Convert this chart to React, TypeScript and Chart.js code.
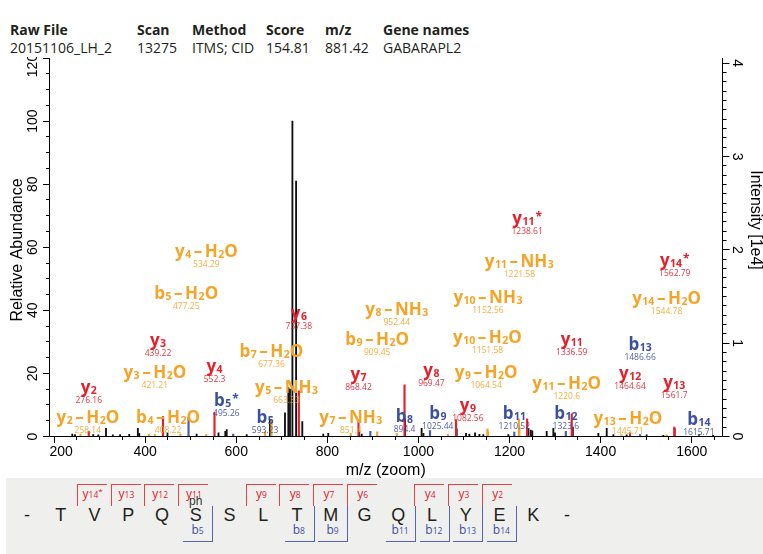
import React, { useEffect, useRef } from "react";
import { Chart, registerables } from "chart.js";

Chart.register(...registerables);

// ---------------- data ----------------
const headerLabels = ["Raw File", "Scan", "Method", "Score", "m/z", "Gene names"];
const headerValues = ["20151106_LH_2", "13275", "ITMS; CID", "154.81", "881.42", "GABARAPL2"];

// annotated fragment ions
const ionNames = [
  "y2-H2O", "y2", "b4-H2O", "y3-H2O", "y3", "b5-H2O", "b5*", "y4-H2O", "y4", "b5",
  "y5-NH3", "b7-H2O", "y6", "y7-NH3", "y7", "b8", "b9-H2O", "y8-NH3", "y8", "b9",
  "y9-H2O", "y9", "y10-H2O", "y10-NH3", "b11", "y11-H2O", "y11-NH3", "y11*", "b12", "y11",
  "y13-H2O", "y12", "b13", "y14-H2O", "y13", "y14*", "b14",
];
const ionMz = [
  "258.14", "276.16", "408.22", "421.21", "439.22", "477.25", "495.26", "534.29", "552.3", "593.23",
  "663.33", "677.36", "737.38", "851.4", "868.42", "894.4", "909.45", "952.44", "969.47", "1025.44",
  "1064.54", "1082.56", "1151.58", "1152.56", "1210.52", "1220.6", "1221.58", "1238.61", "1323.6", "1336.59",
  "1445.71", "1464.64", "1486.66", "1544.78", "1561.7", "1562.79", "1615.71",
];
const ionIntensity = [
  0.8, 1.6, 0.8, 0.7, 6.3, 0.8, 6.1, 0.7, 7.7, 0.8,
  1.5, 5.0, 14.5, 0.9, 5.1, 1.6, 1.5, 1.0, 16.4, 1.9,
  0.8, 5.4, 2.4, 1.5, 1.4, 5.6, 3.0, 5.6, 1.6, 7.2,
  0.6, 1.2, 0.6, 0.5, 3.0, 2.5, 0.7,
];
// label anchor height (relative abundance) and horizontal displacement (m/z units)
const labelLevel = [
  6.2, 15.8, 6.2, 20.5, 30.7, 45.5, 11.6, 58.9, 22.4, 6.2,
  15.8, 27.2, 39.2, 6.2, 19.8, 6.5, 30.8, 40.3, 21.1, 7.4,
  20.5, 10.0, 31.6, 44.3, 7.6, 17.1, 55.6, 69.3, 7.6, 30.9,
  5.8, 20.2, 29.3, 43.9, 17.4, 56.0, 5.5,
];
const labelShiftMz = [
  16, 0, 42, 0, -11, 13, 83, 0, 0, 70,
  47, 0, 0, 0, 0, 75, 0, 0, 59, 17,
  84, 26, 0, 0, 0, 105, 0, 0, 0, 0,
  14, 0, 0, 0, 0, 0, 0,
];

// unannotated peaks
const otherPeakMz = [
  240, 246, 286, 297, 314, 329, 345, 365, 384, 387,
  449, 513, 561, 576, 579, 623, 674, 707, 714.4, 718,
  723.3, 731.4, 745, 791, 802, 870, 875.5, 970.6, 1007, 1011,
  1084, 1104.5, 1111.8, 1124.3, 1133.8, 1142.5, 1197.4, 1241.5, 1246.6, 1250,
  1281.6, 1296.2, 1299.9, 1339, 1395, 1413.4, 1428, 1457, 1501, 1537.6, 1647,
];
const otherPeakIntensity = [
  0.8, 0.6, 0.6, 0.5, 2.6, 0.5, 0.6, 0.7, 2.6, 1.0,
  1.2, 0.8, 1.2, 1.6, 2.2, 0.6, 5.5, 7.5, 15.5, 15.0,
  100, 81, 4.7, 0.8, 1.0, 1.5, 0.8, 5.6, 2.6, 1.0,
  2.4, 1.0, 0.8, 1.2, 0.7, 0.6, 0.6, 2.5, 2.0, 1.8,
  1.6, 2.6, 1.2, 3.0, 1.0, 2.6, 0.6, 0.5, 0.5, 0.4, 0.4,
];

const xMajorTicks = [200, 400, 600, 800, 1000, 1200, 1400, 1600];
const leftMajorTicks = [0, 20, 40, 60, 80, 100, 120];
const rightMajorTicks = [0, 1, 2, 3, 4];

const sequence = ["-", "T", "V", "P", "Q", "S", "S", "L", "T", "M", "G", "Q", "L", "Y", "E", "K", "-"];
const yBracketLabels = ["y14*", "y13", "y12", "y11", "y9", "y8", "y7", "y6", "y4", "y3", "y2"];
const yBracketAfter = [1, 2, 3, 4, 6, 7, 8, 9, 11, 12, 13];
const bBracketLabels = ["b5", "b8", "b9", "b11", "b12", "b13", "b14"];
const bBracketAfter = [5, 8, 9, 11, 12, 13, 14];
const modifiedResidue = 5;
const modificationText = "ph";

// ---------------- styles ----------------
const RED = "#e5202b";
const ORANGE = "#f6a427";
const BLUE = "#3d4f9f";
const PEAK_BLUE = "#4a5cab";
const LINE_RED = "#ee3f46";
const LINE_BLUE = "#5565b3";
const AX_FONT = '"Liberation Sans", Arial, sans-serif';
const LBL_FONT = '"Open Sans", sans-serif';

const CANVAS_TOP = 57;
const CANVAS_W = 763;
const CANVAS_H = 421;

function ionKind(name: string) {
  if (name.indexOf("-") >= 0) return "loss";
  return name[0] === "y" ? "y" : "b";
}
function ionColor(name: string) {
  const k = ionKind(name);
  return k === "loss" ? ORANGE : k === "y" ? RED : BLUE;
}

function drawIonName(ctx: CanvasRenderingContext2D, name: string, cx: number, baseline: number, color: string) {
  const BIG = 17;
  const SMALL = 10.5;
  const toks: any[] = [];
  let i = 0;
  while (i < name.length) {
    const ch = name[i];
    if (/[0-9]/.test(ch)) {
      let j = i;
      while (j < name.length && /[0-9]/.test(name[j])) j++;
      toks.push({ t: name.slice(i, j), size: SMALL, dy: 1, padL: 0.5, padR: 0 });
      i = j;
      continue;
    }
    if (ch === "*") toks.push({ t: "*", size: SMALL + 1.5, dy: -3, padL: 1, padR: 0 });
    else if (ch === "-") toks.push({ t: "\u2013", size: BIG, dy: 0, padL: 2.5, padR: 2.5 });
    else toks.push({ t: ch, size: BIG, dy: 0, padL: 0, padR: 0 });
    i++;
  }
  let total = 0;
  for (const k of toks) {
    ctx.font = `bold ${k.size}px ${LBL_FONT}`;
    k.w = ctx.measureText(k.t).width;
    total += k.padL + k.w + k.padR;
  }
  let x = cx - total / 2;
  ctx.fillStyle = color;
  ctx.textAlign = "left";
  ctx.textBaseline = "alphabetic";
  for (const k of toks) {
    ctx.font = `bold ${k.size}px ${LBL_FONT}`;
    x += k.padL;
    ctx.fillText(k.t, x, baseline + k.dy);
    x += k.w + k.padR;
  }
}

const axesPlugin = {
  id: "spectrumAxes",
  afterDraw(chart: any) {
    const { ctx, chartArea: ca, scales } = chart;
    const xs = scales.x;
    const yl = scales.y;
    const yr = scales.y2;
    const snap = (v: number) => Math.floor(v) + 0.5;
    ctx.save();
    ctx.strokeStyle = "#000";
    ctx.fillStyle = "#000";
    ctx.lineWidth = 1;
    const L = snap(ca.left);
    const R = snap(ca.right);
    const B = snap(ca.bottom);
    const T = ca.top;
    ctx.beginPath();
    ctx.moveTo(L, T);
    ctx.lineTo(L, B);
    ctx.lineTo(R, B);
    ctx.lineTo(R, T);
    ctx.stroke();

    // x ticks
    ctx.beginPath();
    for (let m = 200; m <= xs.max; m += 50) {
      const px = snap(xs.getPixelForValue(m));
      const major = xMajorTicks.indexOf(m) >= 0;
      ctx.moveTo(px, B);
      ctx.lineTo(px, B + (major ? 6.5 : 3.5));
    }
    // left ticks
    for (let v = 0; v <= 120; v += 5) {
      const py = snap(yl.getPixelForValue(v));
      const major = leftMajorTicks.indexOf(v) >= 0;
      ctx.moveTo(L, py);
      ctx.lineTo(L - (major ? 6.5 : 3.5), py);
    }
    // right ticks
    for (let k = 0; k <= 40; k++) {
      const py = snap(yr.getPixelForValue(k / 10));
      const major = k % 10 === 0;
      ctx.moveTo(R, py);
      ctx.lineTo(R + (major ? 7 : 4), py);
    }
    ctx.stroke();

    // x labels
    ctx.font = `14px ${AX_FONT}`;
    ctx.textAlign = "center";
    ctx.textBaseline = "top";
    for (const m of xMajorTicks) {
      const txt = String(m);
      const w = ctx.measureText(txt).width;
      let px = xs.getPixelForValue(m);
      px = Math.max(ca.left + w / 2, Math.min(ca.right - w / 2, px));
      ctx.fillText(txt, px, ca.bottom + 8.5);
    }
    // left labels (rotated)
    ctx.textBaseline = "middle";
    for (const v of leftMajorTicks) {
      let py = yl.getPixelForValue(v);
      py = Math.max(py, ca.top + 7.5);
      ctx.save();
      ctx.translate(33, py);
      ctx.rotate(-Math.PI / 2);
      ctx.fillText(String(v), 0, 0);
      ctx.restore();
    }
    // right labels (rotated)
    for (const v of rightMajorTicks) {
      const py = yr.getPixelForValue(v);
      ctx.save();
      ctx.translate(737, py);
      ctx.rotate(Math.PI / 2);
      ctx.fillText(String(v), 0, 0);
      ctx.restore();
    }
    // titles
    ctx.font = `16px ${AX_FONT}`;
    ctx.save();
    ctx.translate(18, 250 - CANVAS_TOP);
    ctx.rotate(-Math.PI / 2);
    ctx.fillText("Relative Abundance", 0, 0);
    ctx.restore();
    ctx.save();
    ctx.translate(755, 220 - CANVAS_TOP);
    ctx.rotate(Math.PI / 2);
    ctx.fillText("Intensity [1e4]", 0, 0);
    ctx.restore();
    ctx.textBaseline = "alphabetic";
    ctx.fillText("m/z (zoom)", (ca.left + ca.right) / 2, 475 - CANVAS_TOP);
    ctx.restore();
  },
};

const labelsPlugin = {
  id: "ionLabels",
  afterDatasetsDraw(chart: any) {
    const { ctx, scales } = chart;
    const xs = scales.x;
    const yl = scales.y;
    ctx.save();
    ionNames.forEach((name, i) => {
      const color = ionColor(name);
      const cx = xs.getPixelForValue(parseFloat(ionMz[i]) + labelShiftMz[i]);
      const cy = yl.getPixelForValue(labelLevel[i]);
      drawIonName(ctx, name, cx, cy + 6, color);
      ctx.font = `8.5px ${LBL_FONT}`;
      ctx.textAlign = "center";
      ctx.textBaseline = "alphabetic";
      ctx.fillStyle = color;
      ctx.globalAlpha = 0.9;
      ctx.fillText(ionMz[i], cx, cy + 16);
      ctx.globalAlpha = 1;
    });
    ctx.restore();
  },
};

function SeqLabel({ text, color }: { text: string; color: string }) {
  const m = text.match(/^([a-z])(\d+)(\*?)$/);
  if (!m) return <span>{text}</span>;
  return (
    <span style={{ color }}>
      {m[1]}
      <span style={{ fontSize: 8.5 }}>{m[2]}</span>
      {m[3] ? <span style={{ fontSize: 8, position: "relative", top: -4 }}>{m[3]}</span> : null}
    </span>
  );
}

export default function App() {
  const ref = useRef<HTMLCanvasElement | null>(null);

  useEffect(() => {
    const canvas = ref.current;
    if (!canvas) return;
    const pts = (kind: string) =>
      ionNames
        .map((n, i) => ({ n, x: parseFloat(ionMz[i]), y: ionIntensity[i] }))
        .filter((p) => ionKind(p.n) === kind)
        .map((p) => ({ x: p.x, y: p.y }));
    const blackPts = otherPeakMz.map((x, i) => ({ x, y: otherPeakIntensity[i] }));

    const chart = new Chart(canvas, {
      type: "bar",
      data: {
        datasets: [
          { label: "y", data: pts("y"), backgroundColor: RED, barThickness: 1.5 },
          { label: "b", data: pts("b"), backgroundColor: PEAK_BLUE, barThickness: 1.5 },
          { label: "loss", data: pts("loss"), backgroundColor: ORANGE, barThickness: 1.5 },
          { label: "other", data: blackPts, backgroundColor: "#111", barThickness: 1.2 },
        ] as any,
      },
      options: {
        animation: false,
        responsive: false,
        maintainAspectRatio: false,
        devicePixelRatio: 1,
        layout: { padding: { left: 49.5, right: 41, top: 1, bottom: 41.5 } },
        plugins: { legend: { display: false }, tooltip: { enabled: false }, title: { display: false } },
        datasets: { bar: { grouped: false, borderWidth: 0 } as any },
        scales: {
          x: { type: "linear", min: 190, max: 1666.5, offset: false, display: false, grid: { offset: false } },
          y: { type: "linear", min: 0, max: 120, display: false },
          y2: { type: "linear", min: 0, max: 4.056, display: false, position: "right" },
        },
      } as any,
      plugins: [labelsPlugin, axesPlugin],
    });
    return () => chart.destroy();
  }, []);

  const seqX = (i: number) => 27 + 33.75 * i;

  return (
    <div
      style={{
        position: "absolute",
        left: 0,
        top: 0,
        width: 763,
        height: 554,
        overflow: "hidden",
        background: "#fff",
      }}
    >
      {headerLabels.map((t, i) => (
        <div
          key={"h" + i}
          style={{
            position: "absolute",
            left: [10, 137, 192, 266, 325, 383][i],
            top: 20.6,
            font: `bold 14px ${LBL_FONT}`,
            lineHeight: "18px",
            color: "#231f20",
            whiteSpace: "nowrap",
          }}
        >
          {t}
        </div>
      ))}
      {headerValues.map((t, i) => (
        <div
          key={"v" + i}
          style={{
            position: "absolute",
            left: [10, 137, 192, 266, 325, 383][i],
            top: 38.6,
            font: `14px ${LBL_FONT}`,
            lineHeight: "18px",
            color: "#231f20",
            whiteSpace: "nowrap",
          }}
        >
          {t}
        </div>
      ))}
      <canvas
        ref={ref}
        width={CANVAS_W}
        height={CANVAS_H}
        style={{ position: "absolute", left: 0, top: CANVAS_TOP, width: CANVAS_W, height: CANVAS_H }}
      />
      <div
        style={{
          position: "absolute",
          left: 6,
          top: 478,
          width: 757,
          height: 76,
          background: "#eff0ee",
        }}
      />
      {sequence.map((s, i) => (
        <div
          key={"s" + i}
          style={{
            position: "absolute",
            left: seqX(i) - 15,
            width: 30,
            top: 504.6,
            textAlign: "center",
            font: `18px ${AX_FONT}`,
            lineHeight: "20px",
            color: "#231f20",
          }}
        >
          {s}
        </div>
      ))}
      <div
        style={{
          position: "absolute",
          left: seqX(modifiedResidue) - 15,
          width: 30,
          top: 494,
          textAlign: "center",
          font: `12px ${AX_FONT}`,
          lineHeight: "14px",
          color: "#333",
        }}
      >
        {modificationText}
      </div>
      {yBracketLabels.map((lab, k) => {
        const g = seqX(yBracketAfter[k] + 0.5);
        return (
          <React.Fragment key={"yb" + k}>
            <div
              style={{
                position: "absolute",
                left: g - 0.75,
                top: 484,
                width: 30,
                height: 22,
                boxSizing: "border-box",
                borderTop: `1.5px solid ${LINE_RED}`,
                borderLeft: `1.5px solid ${LINE_RED}`,
              }}
            />
            <div
              style={{
                position: "absolute",
                left: g,
                width: 30,
                top: 486.5,
                textAlign: "center",
                font: `12px ${LBL_FONT}`,
                lineHeight: "14px",
                whiteSpace: "nowrap",
              }}
            >
              <SeqLabel text={lab} color={RED} />
            </div>
          </React.Fragment>
        );
      })}
      {bBracketLabels.map((lab, k) => {
        const g = seqX(bBracketAfter[k] + 0.5);
        return (
          <React.Fragment key={"bb" + k}>
            <div
              style={{
                position: "absolute",
                left: g + 0.75 - 30,
                top: 506,
                width: 30,
                height: 36,
                boxSizing: "border-box",
                borderBottom: `1.5px solid ${LINE_BLUE}`,
                borderRight: `1.5px solid ${LINE_BLUE}`,
              }}
            />
            <div
              style={{
                position: "absolute",
                left: g - 30,
                width: 30,
                top: 523,
                textAlign: "center",
                font: `12px ${LBL_FONT}`,
                lineHeight: "14px",
                whiteSpace: "nowrap",
              }}
            >
              <SeqLabel text={lab} color={BLUE} />
            </div>
          </React.Fragment>
        );
      })}
    </div>
  );
}
